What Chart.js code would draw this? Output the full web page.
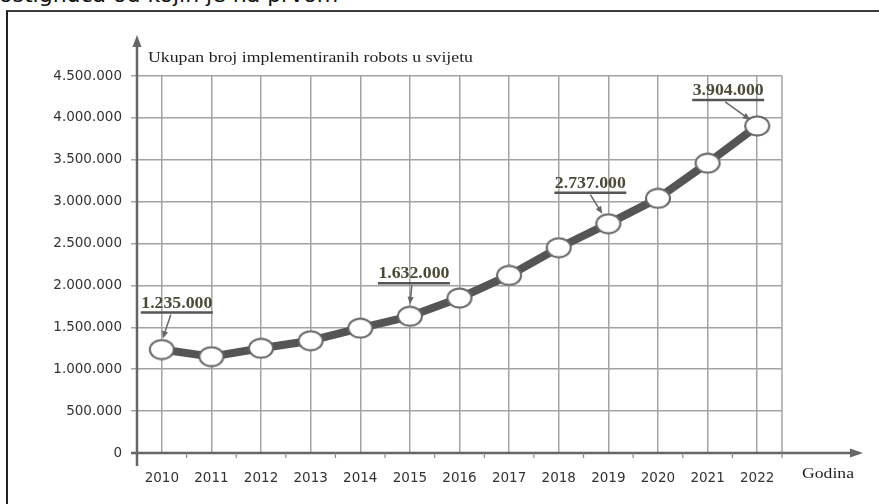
<!DOCTYPE html>
<html>
<head>
<meta charset="utf-8">
<script src="https://cdn.jsdelivr.net/npm/chart.js@4.4.1/dist/chart.umd.min.js"></script>
<style>
  html, body { margin: 0; padding: 0; background: #fff; }
  #wrap { position: relative; width: 879px; height: 504px; overflow: hidden; }
  #frame { position: absolute; left: 6px; top: 10px; width: 1000px; height: 700px;
           border-left: 2px solid #222; border-top: 2px solid #3a3a3a; }
  #head { position: absolute; left: -1px; top: -16px; font: 22px "DejaVu Sans", sans-serif;
          line-height: 22px; color: #111; white-space: nowrap; }
  #chart { position: absolute; left: 0; top: 0; }
</style>
</head>
<body>
<div id="wrap">
  <div id="head">ostignuća od kojih je na prvom</div>
  <div id="frame"></div>
  <canvas id="chart" width="879" height="504"></canvas>
</div>
<script>
// Years on the x axis
const years = ['2010', '2011', '2012', '2013', '2014', '2015', '2016',
               '2017', '2018', '2019', '2020', '2021', '2022'];
// Robots in use worldwide
const robots = [1235000, 1150000, 1250000, 1340000, 1490000, 1632000, 1850000,
                2120000, 2450000, 2737000, 3040000, 3460000, 3904000];
// Y axis range
const yMax = 4500000;
const yStep = 500000;
// Years that get a value callout
const calloutYears = ['2010', '2015', '2019', '2022'];

const yTitle = 'Ukupan broj implementiranih robots u svijetu';
const xTitle = 'Godina';

// callout placement relative to its point (px)
const calloutStyle = {
  '2010': { dx: 15, dy: -42, sx: -6, ex: 1, ey: -11 },
  '2015': { dx: 4, dy: -38, sx: -2, ex: 0, ey: -12 },
  '2019': { dx: -18, dy: -36, sx: 0, ex: -6, ey: -10 },
  '2022': { dx: -29, dy: -31, sx: -3, ex: -7, ey: -6 }
};

const fmt = n => String(n).replace(/\B(?=(\d{3})+(?!\d))/g, '.');

// white ellipse marker
const dot = document.createElement('canvas');
dot.width = 28; dot.height = 22;
(() => {
  const d = dot.getContext('2d');
  d.beginPath();
  d.ellipse(14, 11, 12, 9.5, 0, 0, Math.PI * 2);
  d.fillStyle = '#fff';
  d.fill();
  d.lineWidth = 2;
  d.strokeStyle = '#666';
  d.stroke();
})();

// draw text squeezed/stretched to a given width
const drawFit = (ctx, text, x, y, w, align) => {
  const tw = ctx.measureText(text).width;
  const k = w / tw;
  ctx.save();
  ctx.textAlign = 'left';
  ctx.textBaseline = 'alphabetic';
  const left = align === 'center' ? x - w / 2 : x;
  ctx.translate(left, y);
  ctx.scale(k, 1);
  ctx.fillText(text, 0, 0);
  ctx.restore();
};

const arrow = (ctx, x1, y1, x2, y2, head) => {
  const a = Math.atan2(y2 - y1, x2 - x1);
  ctx.beginPath();
  ctx.moveTo(x1, y1);
  ctx.lineTo(x2 - Math.cos(a) * head * 0.8, y2 - Math.sin(a) * head * 0.8);
  ctx.stroke();
  ctx.beginPath();
  ctx.moveTo(x2, y2);
  ctx.lineTo(x2 - head * Math.cos(a - 0.4), y2 - head * Math.sin(a - 0.4));
  ctx.lineTo(x2 - head * Math.cos(a + 0.4), y2 - head * Math.sin(a + 0.4));
  ctx.closePath();
  ctx.fill();
};

const decor = {
  id: 'decor',
  beforeDatasetsDraw(chart) {
    const { ctx, chartArea: a, scales: { x } } = chart;
    ctx.save();
    // right edge of the grid
    ctx.strokeStyle = '#a3a3a3';
    ctx.lineWidth = 1.5;
    ctx.beginPath();
    ctx.moveTo(a.right, a.top);
    ctx.lineTo(a.right, a.bottom);
    ctx.stroke();

    // axes with arrow heads
    ctx.strokeStyle = '#666';
    ctx.fillStyle = '#666';
    ctx.lineWidth = 2.5;
    ctx.beginPath();
    ctx.moveTo(a.left, a.bottom + 13);
    ctx.lineTo(a.left, 44);
    ctx.stroke();
    ctx.beginPath();
    ctx.moveTo(a.left, 35);
    ctx.lineTo(a.left - 4.5, 47);
    ctx.lineTo(a.left + 4.5, 47);
    ctx.closePath();
    ctx.fill();

    ctx.beginPath();
    ctx.moveTo(a.left - 6, a.bottom);
    ctx.lineTo(852, a.bottom);
    ctx.stroke();
    ctx.beginPath();
    ctx.moveTo(863, a.bottom);
    ctx.lineTo(850, a.bottom - 4.5);
    ctx.lineTo(850, a.bottom + 4.5);
    ctx.closePath();
    ctx.fill();

    // small marks between the years
    const half = (x.getPixelForValue(1) - x.getPixelForValue(0)) / 2;
    ctx.lineWidth = 1.2;
    ctx.strokeStyle = '#888';
    years.forEach((y, i) => {
      const px = x.getPixelForValue(i) + half;
      ctx.beginPath();
      ctx.moveTo(px, a.bottom);
      ctx.lineTo(px, a.bottom + 5);
      ctx.stroke();
    });
    ctx.restore();
  },
  afterDraw(chart) {
    const { ctx, chartArea: a } = chart;
    const meta = chart.getDatasetMeta(0);
    ctx.save();

    // axis titles
    ctx.fillStyle = '#1e1e1e';
    ctx.font = '15px "Liberation Serif", serif';
    drawFit(ctx, yTitle, a.left + 11, 62, 325, 'left');
    drawFit(ctx, xTitle, 802, 478, 52, 'left');

    // value callouts
    calloutYears.forEach(yr => {
      const i = years.indexOf(yr);
      const p = meta.data[i];
      const s = calloutStyle[yr];
      const cx = p.x + s.dx;
      const base = p.y + s.dy;
      ctx.font = 'bold 16px "Liberation Serif", serif';
      ctx.fillStyle = '#4b4a36';
      drawFit(ctx, fmt(robots[i]), cx, base, 71, 'center');

      ctx.strokeStyle = '#555';
      ctx.lineWidth = 2.5;
      ctx.beginPath();
      ctx.moveTo(cx - 36, base + 5);
      ctx.lineTo(cx + 36, base + 5);
      ctx.stroke();

      ctx.strokeStyle = '#666';
      ctx.fillStyle = '#666';
      ctx.lineWidth = 1.5;
      arrow(ctx, cx + s.sx, base + 7, p.x + s.ex, p.y + s.ey, 8);
    });
    ctx.restore();
  }
};

new Chart(document.getElementById('chart').getContext('2d'), {
  type: 'line',
  data: {
    labels: years,
    datasets: [{
      data: robots,
      borderColor: '#555',
      borderWidth: 8,
      borderJoinStyle: 'round',
      tension: 0,
      pointStyle: dot,
      pointRadius: 11,
      pointHoverRadius: 11
    }]
  },
  options: {
    responsive: false,
    animation: false,
    events: [],
    layout: { padding: { left: 0, top: 76, right: 97, bottom: 0 } },
    plugins: { legend: { display: false }, tooltip: { enabled: false } },
    scales: {
      x: {
        offset: true,
        afterFit: s => { s.height = 51; },
        border: { display: false },
        grid: { color: '#a3a3a3', lineWidth: 1.5, drawTicks: false, offset: false },
        ticks: { color: '#333', padding: 17, maxRotation: 0,
                 font: { family: 'DejaVu Sans', size: 13.5 } }
      },
      y: {
        min: 0,
        max: yMax,
        afterFit: s => { s.width = 137; },
        border: { display: false },
        grid: { color: '#a3a3a3', lineWidth: 1.5, tickLength: 6 },
        ticks: { stepSize: yStep, color: '#333', padding: 9,
                 font: { family: 'DejaVu Sans', size: 13.5 },
                 callback: v => fmt(v) }
      }
    }
  },
  plugins: [decor]
});
</script>
</body>
</html>
